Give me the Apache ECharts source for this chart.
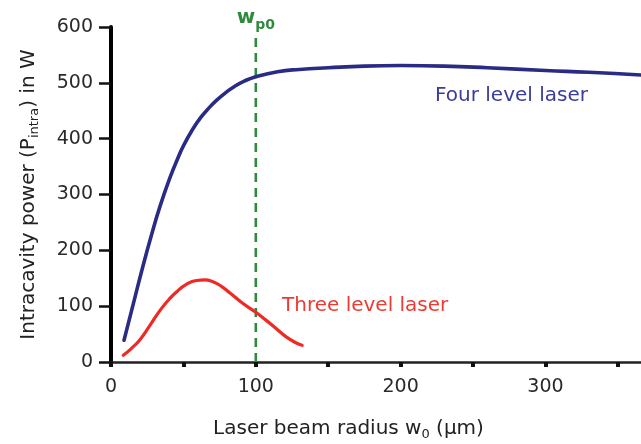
<!DOCTYPE html>
<html>
<head>
<meta charset="utf-8">
<script src="https://cdn.jsdelivr.net/npm/echarts@6/dist/echarts.min.js"></script>
<style>
html,body{margin:0;padding:0;background:#fff;}
#chart{width:641px;height:444px;}
</style>
</head>
<body>
<div id="chart"></div>
<script>
// Data
var fourLevelX = [9, 15, 22, 28, 34, 41, 46, 50, 56, 62, 68, 73, 79, 85, 92, 100, 115, 130, 150, 175, 200, 230, 260, 300, 330, 366];
var fourLevelY = [39, 100, 171, 228, 280, 332, 364, 387, 415, 438, 456, 469, 482, 493, 503, 511, 520, 524, 527, 530, 531, 530, 527, 522, 519, 514];
var threeLevelX = [8.5, 14, 20, 27, 34, 40, 45, 52, 59, 65, 70, 76, 82, 90, 100, 107, 114, 121, 128, 132];
var threeLevelY = [12, 24, 40, 66, 93, 112, 125, 139, 146, 147, 144, 136, 124, 107, 89, 75, 60, 45, 34, 30];
var wp0X = [100, 100];
var wp0Y = [0, 590];
var xTickValues = [0, 50, 100, 150, 200, 250, 300, 350];
var xLabelValues = [0, 100, 200, 300];
var yTickLabels = [0, 100, 200, 300, 400, 500, 600];

function pairs(xs, ys) { return xs.map(function (x, i) { return [x, ys[i]]; }); }

var FONT = 'DejaVu Sans';
var chart = echarts.init(document.getElementById('chart'), null, {renderer: 'canvas'});

var wp0Data = pairs(wp0X, wp0Y);
wp0Data[1] = {
  value: wp0Data[1],
  label: {
    show: true,
    position: 'top',
    distance: 0,
    formatter: '{w|w}{p|p0}',
    rich: {
      w: {fontFamily: FONT, fontWeight: 'bold', fontSize: 20, color: '#2e8b3e', lineHeight: 24, verticalAlign: 'top'},
      p: {fontFamily: FONT, fontWeight: 'bold', fontSize: 14, color: '#2e8b3e', lineHeight: 14, verticalAlign: 'bottom'}
    }
  }
};

var option = {
  backgroundColor: '#fff',
  animation: false,
  grid: {left: 111, right: 0, top: 27, bottom: 82, containLabel: false, outerBoundsMode: 'none'},
  xAxis: {
    type: 'value', min: 0, max: 366, interval: 50,
    name: '{a|Laser beam radius w}{b|0}{a| (μm)}',
    nameLocation: 'middle', nameGap: 55,
    nameTextStyle: {
      padding: [0, 55, 0, 0],
      rich: {
        a: {fontFamily: FONT, fontSize: 20, color: '#222', lineHeight: 24},
        b: {fontFamily: FONT, fontSize: 13, color: '#222', lineHeight: 12, verticalAlign: 'bottom'}
      }
    },
    axisLine: {show: true, onZero: false, lineStyle: {color: '#222', width: 2.5}},
    axisTick: {show: true, customValues: xTickValues, length: 5, lineStyle: {color: '#111', width: 4}},
    axisLabel: {customValues: xLabelValues, fontFamily: FONT, fontSize: 19, color: '#2a2a2a', margin: 16},
    splitLine: {show: false}
  },
  yAxis: {
    type: 'value', min: 0, max: 600, interval: 100,
    name: '{a|Intracavity power (P}{b|intra}{a|) in W}',
    nameLocation: 'middle', nameGap: 70,
    nameTextStyle: {
      rich: {
        a: {fontFamily: FONT, fontSize: 20, color: '#222', lineHeight: 24},
        b: {fontFamily: FONT, fontSize: 13, color: '#222', lineHeight: 12, verticalAlign: 'bottom'}
      }
    },
    axisLine: {show: true, onZero: false, lineStyle: {color: '#000', width: 4}},
    axisTick: {show: true, length: 12, lineStyle: {color: '#111', width: 2.5}},
    axisLabel: {fontFamily: FONT, fontSize: 19, color: '#2a2a2a', margin: 18,
      formatter: function (v) { return yTickLabels.indexOf(v) >= 0 ? String(v) : ''; }},
    splitLine: {show: false}
  },
  series: [
    {
      name: 'Four level laser', type: 'line', smooth: 0.5, symbol: 'none',
      data: pairs(fourLevelX, fourLevelY),
      lineStyle: {color: '#2a2b85', width: 3.6, cap: 'round', join: 'round'},
      z: 3
    },
    {
      name: 'Three level laser', type: 'line', smooth: 0.5, symbol: 'none',
      data: pairs(threeLevelX, threeLevelY),
      lineStyle: {color: '#ee2a24', width: 3.2, cap: 'round', join: 'round'},
      z: 3
    },
    {
      name: 'wp0', type: 'line', symbol: 'circle', showSymbol: true, symbolSize: 1,
      itemStyle: {color: 'rgba(0,0,0,0)'},
      data: wp0Data,
      lineStyle: {color: '#2e8b3e', width: 2.6, type: [9, 6]},
      z: 2
    }
  ],
  graphic: [
    {type: 'text', left: 435, top: 86, style: {text: 'Four level laser', fontFamily: FONT, fontSize: 20, fill: '#3a3e96'}},
    {type: 'text', left: 282, top: 296, style: {text: 'Three level laser', fontFamily: FONT, fontSize: 20, fill: '#ee3a33'}}
  ]
};
chart.setOption(option);
</script>
</body>
</html>
